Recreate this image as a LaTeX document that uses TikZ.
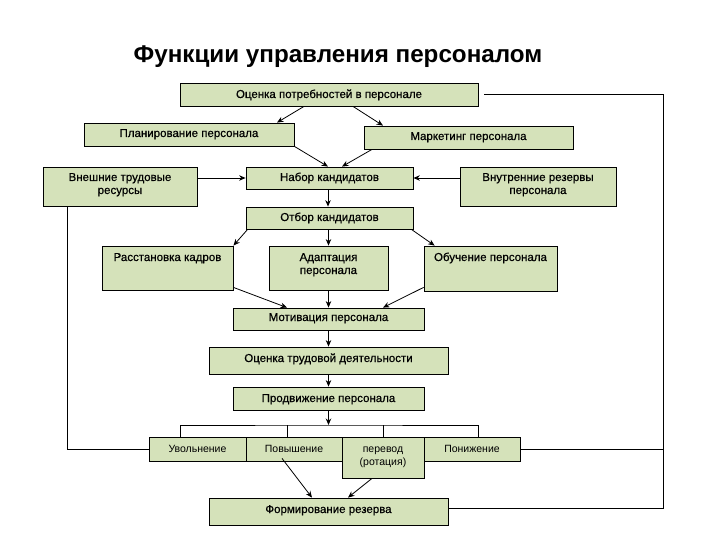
\documentclass[tikz,border=0pt]{standalone}
\usepackage{fontspec}
\setmainfont{Liberation Sans}
\newfontfamily\boxfont[FakeBold=0.5]{Liberation Sans}
\usetikzlibrary{arrows.meta,calc}
\definecolor{boxgreen}{RGB}{213,226,186}
\newcommand\bxt[4]{\parbox[c][#2][t]{#1}{\centering\rule{0pt}{#3}#4}}
\tikzset{
  box/.style={draw=black, fill=boxgreen, inner sep=0pt, line width=0.8pt,
    font=\boxfont\fontsize{11.5}{13}\selectfont},
  sbox/.style={box, font=\normalfont\fontsize{10.5}{13}\selectfont},
  arr/.style={line width=0.8pt, -{Stealth[length=6.5pt,width=5.5pt]}},
  ln/.style={line width=0.8pt},
}
\begin{document}
\begin{tikzpicture}[x=1pt,y=-1pt]
\useasboundingbox[fill=white] (0,0) rectangle (720,540);
\node[anchor=base, font=\fontsize{24.2}{27}\selectfont\bfseries] (title) at (338,63) {Функции управления персоналом};

\node[box] (ocenka) at (329,94.5) {\bxt{298pt}{23pt}{15pt}{Оценка потребностей в персонале}};
\node[box] (plan) at (189,134.5) {\bxt{210pt}{23pt}{14pt}{Планирование персонала}};
\node[box] (market) at (468.5,137.5) {\bxt{209pt}{23pt}{14pt}{Маркетинг персонала}};
\node[box] (vnesh) at (120,186.5) {\bxt{154pt}{39pt}{14pt}{Внешние трудовые\\ресурсы}};
\node[box] (nabor) at (329.5,178) {\bxt{167pt}{22pt}{14pt}{Набор кандидатов}};
\node[box] (vnutr) at (538,186.5) {\bxt{156pt}{39pt}{14pt}{Внутренние резервы\\персонала}};
\node[box] (otbor) at (329.5,218) {\bxt{167pt}{22pt}{14pt}{Отбор кандидатов}};
\node[box] (rasst) at (167.5,268) {\bxt{131pt}{44pt}{15pt}{Расстановка кадров}};
\node[box] (adapt) at (328.5,268) {\bxt{119pt}{44pt}{15pt}{Адаптация\\персонала}};
\node[box] (obuch) at (490.5,268.5) {\bxt{133pt}{45pt}{15pt}{Обучение персонала}};
\node[box] (motiv) at (328.5,319) {\bxt{191pt}{22pt}{13pt}{Мотивация персонала}};
\node[box] (ocenka2) at (328.5,360.5) {\bxt{239pt}{27pt}{15pt}{Оценка трудовой деятельности}};
\node[box] (prodv) at (328.5,398.5) {\bxt{191pt}{23pt}{15pt}{Продвижение персонала}};
\node[sbox] (uvol) at (197.5,449) {\bxt{97pt}{24pt}{15pt}{Увольнение}};
\node[sbox] (povysh) at (294,449) {\bxt{96pt}{24pt}{15pt}{Повышение}};
\node[sbox] (perevod) at (383,457.5) {\bxt{82pt}{41pt}{15pt}{перевод\\(ротация)}};
\node[sbox] (ponizh) at (472,449) {\bxt{96pt}{24pt}{15pt}{Понижение}};
\node[box] (formir) at (328.5,511.5) {\bxt{239pt}{27pt}{15pt}{Формирование резерва}};

\coordinate (bus) at (328.5,425);
\coordinate (rx) at (663,0);

% arrows
\draw[arr] ([xshift=-25pt]ocenka.south) -- ([xshift=88pt]plan.north);
\draw[arr] ([xshift=24pt]ocenka.south) -- ([xshift=-85.5pt]market.north);
\draw[arr] (plan.south east) -- ([xshift=-1.5pt]nabor.north);
\draw[arr] ([xshift=-96.5pt]market.south) -- ([xshift=12.5pt]nabor.north);
\draw[arr] (vnesh.east |- nabor.west) -- (nabor.west);
\draw[arr] (vnutr.west |- nabor.east) -- (nabor.east);
\draw[arr] ([xshift=-1.5pt]nabor.south) -- ([xshift=-1.5pt]otbor.north);
\draw[arr] ([xshift=2pt]otbor.south west) -- (rasst.north east);
\draw[arr] (otbor.south -| adapt.south) -- (adapt.north);
\draw[arr] ([xshift=-2pt]otbor.south east) -- ([xshift=11pt]obuch.north west);
\draw[arr] ([yshift=3pt]rasst.south east) -- ([xshift=-41.5pt]motiv.north);
\draw[arr] (adapt.south) -- (motiv.north);
\draw[arr] ([yshift=4pt]obuch.south west) -- ([xshift=54.5pt]motiv.north);
\draw[arr] (motiv.south) -- (ocenka2.north);
\draw[arr] (ocenka2.south) -- (prodv.north);
\draw[arr] (prodv.south) -- (bus);

% bus to bottom row
\draw[ln] ([xshift=-17.5pt]uvol.north) |- (bus) -| ([xshift=6pt]ponizh.north);
\draw[ln] ([xshift=-7pt]povysh.north) -- ([xshift=-7pt]povysh.north |- bus);
\draw[ln] (perevod.north) -- (perevod.north |- bus);

\draw[arr] ([xshift=-12pt,yshift=3pt]povysh.south) -- ([xshift=-16.5pt]formir.north);
\draw[arr] ([xshift=-11pt]perevod.south) -- ([xshift=19.5pt]formir.north);

% loops
\draw[ln] ([xshift=-53pt]vnesh.south) |- (uvol.west);
\draw[ln] ([xshift=6pt]ocenka.east) -| ([yshift=3.5pt]rx |- formir.east) -- ([yshift=3.5pt]formir.east);
\draw[ln] (ponizh.east) -- (ponizh.east -| rx);
\end{tikzpicture}
\end{document}
